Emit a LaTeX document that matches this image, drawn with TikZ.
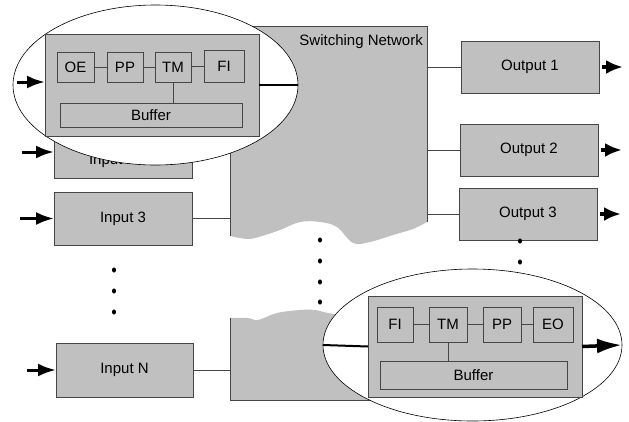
\documentclass[tikz,border=0pt]{standalone}
\usepackage{fontspec}
\setmainfont{Liberation Sans}
\usetikzlibrary{positioning,shapes.geometric,arrows.meta}

\definecolor{boxgray}{RGB}{192,192,192}
\definecolor{boxline}{RGB}{70,70,70}

\begin{document}
\begin{tikzpicture}[x=1pt, y=-1pt,
  font=\fontsize{15}{18}\selectfont,
  unitbox/.style={draw=boxline, fill=boxgray, line width=0.8pt, inner sep=0pt, outer sep=0pt},
  iobox/.style={unitbox, minimum width=138pt, minimum height=53pt},
  thin link/.style={draw=boxline, line width=0.8pt},
  thick link/.style={draw=black, line width=2pt},
  inarrow/.style={draw=black, line width=3pt, -{Latex[length=18pt, width=13pt]}},
  outarrow/.style={draw=black, line width=4pt, -{Latex[length=17pt, width=14pt]}},
  zoom/.style={ellipse, draw=black, fill=white, line width=0.6pt, inner sep=0pt, outer sep=0pt}
]
\useasboundingbox (0,0) rectangle (629,421);

% Switching network, upper part with torn bottom edge
\fill[boxgray] (230,26) -- (427,26) -- (427,222)
  -- plot[smooth, tension=0.6] coordinates {(427,222) (413,229) (393,235) (370,242) (353,243) (337,227) (320,222) (300,222) (280,230) (262,236) (248,239) (230,236)}
  -- cycle;
\draw[thin link] (230,236) -- (230,26) -- (427,26) -- (427,222);
\node[anchor=north east, inner sep=0pt] (netlabel) at (423,34) {Switching Network};
\coordinate (netL) at (230,0);
\coordinate (netR) at (427,0);

% Switching network, lower part with torn top edge
\fill[boxgray] (230,400) -- (230,318)
  -- plot[smooth, tension=0.6] coordinates {(230,318) (248,318) (258,320) (277,313) (300,310) (315,310) (328,313) (350,316) (380,314) (427,314)}
  -- (427,400) -- cycle;
\draw[thin link] (230,318) -- (230,400) -- (427,400) -- (427,314);

% Inputs
\node[iobox] (in2) at (123,152) {};
\node (in2txt) at (112,161) {Input 2};
\node[iobox] (in3) at (123,218.5) {Input 3};
\node[iobox, minimum width=137pt, minimum height=54pt] (inN) at (124.5,370) {Input N};

\draw[thin link] (in3.east) -- (in3.east -| netL);
\draw[thin link] (inN.east) -- (inN.east -| netL);

\coordinate[left=32pt of in2.west] (src2);
\coordinate[left=34pt of in3.west] (src3);
\coordinate[left=29pt of inN.west] (srcN);
\draw[inarrow] (src2) -- (in2.west);
\draw[inarrow] (src3) -- (in3.west);
\draw[inarrow] (srcN) -- (inN.west);

% Outputs
\node[iobox, minimum height=52pt] (out1) at (530,67) {Output 1};
\node[iobox, minimum height=52pt] (out2) at (529,150) {Output 2};
\node[iobox, minimum height=52pt] (out3) at (528,214) {Output 3};

\foreach \o in {out1,out2,out3} {
  \draw[thin link] (\o.west) -- (\o.west -| netR);
  \coordinate[right=3pt of \o.east] (\o a);
  \coordinate[right=24pt of \o.east] (\o b);
  \draw[outarrow] (\o a) -- (\o b);
}

% Dots
\foreach \y in {270,291,312} \fill (114,\y) ellipse (2 and 2.6);
\foreach \y in {240,261,282,302} \fill (320,\y) ellipse (2 and 2.6);
\foreach \y in {241,262} \fill (520,\y) ellipse (2 and 2.6);

% Zoom into input port
\node[zoom, minimum width=285pt, minimum height=160pt] (zoomin) at (155.5,85) {};
\node[unitbox, minimum width=214pt, minimum height=102pt] (inpanel) at (152,85) {};
\node[unitbox, minimum width=37pt, minimum height=30pt] (oe) at (75.5,67) {OE};
\node[unitbox, minimum width=36pt, minimum height=30pt] (ppA) at (125,67) {PP};
\node[unitbox, minimum width=36pt, minimum height=30pt] (tmA) at (173,67) {TM};
\node[unitbox, minimum width=40pt, minimum height=32pt] (fiA) at (224,66) {FI};
\node[unitbox, minimum width=182pt, minimum height=24pt] (bufA) at (151,115) {Buffer};
\draw[thin link] (oe) -- (ppA);
\draw[thin link] (ppA) -- (tmA);
\draw[thin link] (tmA) -- (fiA);
\draw[thin link] (tmA.south) -- (tmA.south |- bufA.north);
\coordinate (zinsrc) at (17,82);
\draw[inarrow] (zinsrc) -- (zinsrc -| inpanel.west);
\draw[thick link] (inpanel.east) -- (zoomin.east);

% Zoom into output port
\node[zoom, minimum width=299pt, minimum height=152pt] (zoomout) at (472.5,345) {};
\node[unitbox, minimum width=214pt, minimum height=101pt] (outpanel) at (475,346.5) {};
\node[unitbox, minimum width=36pt, minimum height=35pt] (fiB) at (395,324.5) {FI};
\node[unitbox, minimum width=38pt, minimum height=35pt] (tmB) at (448,324.5) {TM};
\node[unitbox, minimum width=38pt, minimum height=35pt] (ppB) at (502,324.5) {PP};
\node[unitbox, minimum width=40pt, minimum height=35pt] (eo) at (553,324.5) {EO};
\node[unitbox, minimum width=187pt, minimum height=28pt] (bufB) at (473.5,375) {Buffer};
\draw[thin link] (fiB) -- (tmB);
\draw[thin link] (tmB) -- (ppB);
\draw[thin link] (ppB) -- (eo);
\draw[thin link] (tmB.south) -- (tmB.south |- bufB.north);
\draw[thick link] (zoomout.west) -- (outpanel.west);
\draw[line width=3.5pt, -{Latex[length=25pt, width=15pt]}] (outpanel.east) -- (zoomout.east);
\end{tikzpicture}
\end{document}
